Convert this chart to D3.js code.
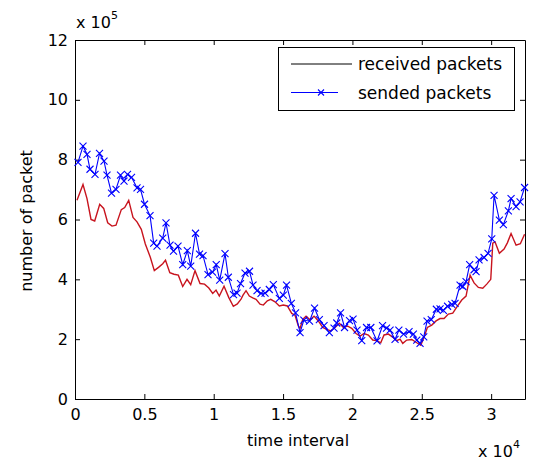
<!DOCTYPE html>
<html>
<head>
<meta charset="utf-8">
<script src="https://cdn.jsdelivr.net/npm/d3@7"></script>
<style>
  body { margin: 0; background: #fff; }
  svg text { font-family: "DejaVu Sans", sans-serif; fill: #000; }
</style>
</head>
<body>
<svg id="chart" width="539" height="460"></svg>
<script>
// sended packets (blue, x markers)
const sentTime = [216, 577, 865, 1082, 1442, 1766, 2091, 2307, 2632, 2956, 3281, 3533, 3785, 4074, 4470, 4723,
  5011, 5408, 5674, 5912, 6323, 6561, 6850, 7102, 7426, 7765, 8097, 8342, 8688, 8976, 9229, 9589, 9914,
  10181, 10433, 10815, 11053, 11428, 11680, 11933, 12257, 12581, 12834, 13122, 13411, 13699, 14009, 14297,
  14730, 15018, 15249, 15595, 15898, 16223, 16496, 16907, 17268, 17614, 17953, 18335, 18674, 18869, 19143,
  19431, 19791, 20044, 20332, 20671, 21017, 21327, 21774, 22171, 22459, 22712, 23072, 23346, 23685, 24081,
  24391, 24637, 24875, 25141, 25379, 25682, 26050, 26317, 26554, 26857, 27160, 27398, 27759, 27953, 28191,
  28451, 28768, 28912, 29128, 29489, 29777, 30044, 30210, 30592, 30880, 31241, 31436, 31796, 32085, 32409];
const sentPackets = [791000, 845000, 818000, 768000, 751000, 821000, 795000, 748000, 688000, 701000, 748000,
  728000, 751000, 741000, 706000, 701000, 651000, 613000, 521000, 511000, 538000, 589000, 514000, 494000,
  511000, 449000, 496000, 444000, 554000, 484000, 479000, 416000, 424000, 449000, 397000, 486000, 407000,
  349000, 354000, 386000, 421000, 427000, 381000, 362000, 353000, 354000, 366000, 382000, 336000, 347000,
  381000, 320000, 288000, 222000, 264000, 260000, 304000, 265000, 245000, 222000, 237000, 254000, 288000,
  239000, 262000, 267000, 230000, 195000, 239000, 239000, 194000, 245000, 237000, 230000, 199000, 230000,
  217000, 225000, 217000, 197000, 186000, 208000, 260000, 265000, 300000, 301000, 296000, 310000, 316000,
  320000, 381000, 376000, 392000, 449000, 432000, 426000, 465000, 473000, 487000, 535000, 681000, 598000,
  583000, 629000, 670000, 643000, 659000, 707000];

// received packets (red line)
const recvTime = [144, 577, 865, 1154, 1420, 1781, 2069, 2358, 2668, 2956, 3338, 3583, 3872, 4182, 4470, 4780,
  5069, 5429, 5718, 6020, 6323, 6525, 6835, 7138, 7448, 7765, 8075, 8342, 8652, 9013, 9337, 9647, 9928,
  10166, 10404, 10743, 11089, 11414, 11702, 11969, 12113, 12329, 12567, 12812, 13050, 13339, 13577, 13865,
  14110, 14420, 14730, 15018, 15307, 15624, 15862, 16100, 16223, 16418, 16656, 16944, 17232, 17542, 17859,
  18148, 18436, 18746, 19056, 19344, 19633, 19950, 20260, 20549, 20837, 21147, 21464, 21753, 22041, 22279,
  22589, 22906, 23194, 23433, 23627, 23915, 24276, 24637, 24925, 25163, 25401, 25718, 26028, 26317, 26605,
  26915, 27232, 27521, 27881, 28191, 28480, 28768, 29078, 29395, 29684, 29972, 30116, 30282, 30592, 30931,
  31169, 31436, 31796, 32106, 32409];
const recvPackets = [664000, 717000, 670000, 600000, 595000, 651000, 637000, 589000, 578000, 581000, 633000,
  640000, 664000, 607000, 592000, 567000, 518000, 474000, 429000, 440000, 452000, 464000, 422000, 417000,
  414000, 376000, 400000, 382000, 429000, 386000, 384000, 371000, 353000, 364000, 344000, 377000, 339000,
  310000, 318000, 334000, 347000, 362000, 344000, 338000, 333000, 317000, 314000, 328000, 333000, 325000,
  311000, 314000, 311000, 286000, 280000, 244000, 236000, 266000, 277000, 265000, 277000, 261000, 239000,
  233000, 228000, 239000, 253000, 239000, 244000, 236000, 219000, 210000, 219000, 214000, 197000, 195000,
  188000, 214000, 217000, 207000, 195000, 200000, 186000, 197000, 199000, 188000, 180000, 206000, 239000,
  247000, 261000, 269000, 269000, 284000, 287000, 307000, 331000, 344000, 414000, 388000, 373000, 370000,
  384000, 400000, 521000, 525000, 487000, 501000, 522000, 553000, 514000, 519000, 551000];

const xTicks = [0, 5000, 10000, 15000, 20000, 25000, 30000];
const yTicks = [0, 200000, 400000, 600000, 800000, 1000000, 1200000];
const seriesNames = ["received packets", "sended packets"];

const svg = d3.select("#chart");
const box = { left: 75, right: 525, top: 40, bottom: 399 };

const x = d3.scaleLinear().domain([0, 32440]).range([box.left, box.right]);
const y = d3.scaleLinear().domain([0, 1200000]).range([box.bottom, box.top]);

const fmtX = d => String(d / 10000);
const fmtY = d => String(d / 100000);

// axes, MATLAB style: ticks pointing inward on all four sides
svg.append("g").attr("transform", `translate(0,${box.bottom})`)
  .call(d3.axisBottom(x).tickValues(xTicks).tickFormat(fmtX).tickSizeInner(-5).tickSizeOuter(0).tickPadding(10));
svg.append("g").attr("transform", `translate(${box.left},0)`)
  .call(d3.axisLeft(y).tickValues(yTicks).tickFormat(fmtY).tickSizeInner(-5).tickSizeOuter(0).tickPadding(7));
svg.append("g").attr("transform", `translate(0,${box.top})`)
  .call(d3.axisTop(x).tickValues(xTicks).tickFormat("").tickSizeInner(-5).tickSizeOuter(0));
svg.append("g").attr("transform", `translate(${box.right},0)`)
  .call(d3.axisRight(y).tickValues(yTicks).tickFormat("").tickSizeInner(-5).tickSizeOuter(0));

svg.selectAll(".tick text").style("font-size", "16px").attr("fill", "#000");
svg.selectAll(".domain, .tick line").attr("stroke", "#000");

// lines
const recvData = recvTime.map((t, i) => [t, recvPackets[i]]);
const sentData = sentTime.map((t, i) => [t, sentPackets[i]]);
const line = d3.line().x(d => x(d[0])).y(d => y(d[1]));

svg.append("path").datum(recvData)
  .attr("d", line).attr("fill", "none").attr("stroke", "#c8141e").attr("stroke-width", 1.4);

svg.append("path").datum(sentData)
  .attr("d", line).attr("fill", "none").attr("stroke", "#0000ff").attr("stroke-width", 1.1);

const ms = 3.5;
svg.append("g").selectAll("path").data(sentData).enter().append("path")
  .attr("d", d => {
    const cx = x(d[0]), cy = y(d[1]);
    return `M${cx - ms},${cy - ms}L${cx + ms},${cy + ms}M${cx - ms},${cy + ms}L${cx + ms},${cy - ms}`;
  })
  .attr("stroke", "#0000ff").attr("stroke-width", 1.1).attr("fill", "none");

// axis labels
svg.append("text").attr("x", (box.left + box.right) / 2 - 2).attr("y", 446)
  .attr("text-anchor", "middle").style("font-size", "16px").text("time interval");

svg.append("text").attr("transform", "translate(32,221) rotate(-90)")
  .attr("text-anchor", "middle").style("font-size", "16px").text("number of packet");

// exponent labels
const ex5 = svg.append("text").attr("x", 76).attr("y", 28).style("font-size", "16px");
ex5.append("tspan").text("x 10");
ex5.append("tspan").attr("dy", -9).style("font-size", "11px").text("5");

const ex4 = svg.append("text").attr("x", 478).attr("y", 457).style("font-size", "16px");
ex4.append("tspan").text("x 10");
ex4.append("tspan").attr("dy", -9).style("font-size", "11px").text("4");

// legend
const lg = svg.append("g");
lg.append("rect").attr("x", 278.5).attr("y", 47.5).attr("width", 236).attr("height", 63)
  .attr("fill", "#fff").attr("stroke", "#000").attr("stroke-width", 1);

lg.append("line").attr("x1", 291).attr("x2", 352).attr("y1", 64).attr("y2", 64)
  .attr("stroke", "#000").attr("stroke-width", 1);
lg.append("text").attr("x", 358).attr("y", 70).style("font-size", "17px").text(seriesNames[0]);

lg.append("line").attr("x1", 291).attr("x2", 338).attr("y1", 92.5).attr("y2", 92.5)
  .attr("stroke", "#0000ff").attr("stroke-width", 1);
lg.append("path").attr("d", `M${321 - 3},${92.5 - 3}L${321 + 3},${92.5 + 3}M${321 - 3},${92.5 + 3}L${321 + 3},${92.5 - 3}`)
  .attr("stroke", "#0000ff").attr("stroke-width", 1.1);
lg.append("text").attr("x", 358).attr("y", 99).style("font-size", "17px").text(seriesNames[1]);
</script>
</body>
</html>
